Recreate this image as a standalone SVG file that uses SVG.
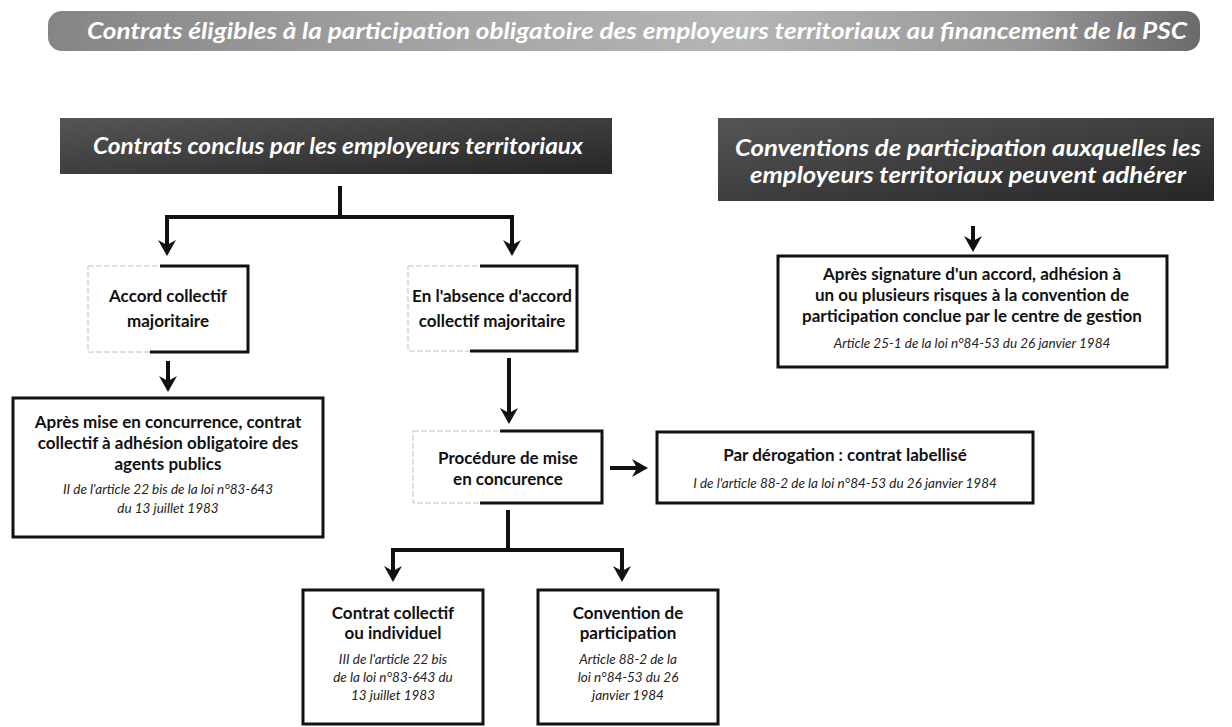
<svg xmlns="http://www.w3.org/2000/svg" width="1232" height="727" viewBox="0 0 1232 727">
<defs>
<style>
text{font-family:Lato,"Open Sans","Liberation Sans",sans-serif;text-anchor:middle}
.b{font-weight:700;font-size:17px;fill:#111}
.i{font-style:italic;font-size:13.5px;fill:#222}
.h{font-style:italic;font-weight:700;font-size:23px;fill:#fff}
.t{font-style:italic;font-weight:700;font-size:23px;fill:#fff}
.box{fill:#fff;stroke:#111;stroke-width:3}
.soft{fill:#fff;stroke:#c4c4c4;stroke-width:1;stroke-dasharray:6 2}
.edge{fill:none;stroke:#111;stroke-width:3}
.c{fill:none;stroke:#111;stroke-width:4}
.a{fill:none;stroke:#111;stroke-width:4;marker-end:url(#ah)}
</style>
<marker id="ah" viewBox="0 0 16 18" refX="6" refY="9" markerWidth="16" markerHeight="18" markerUnits="userSpaceOnUse" orient="auto">
<path d="M0,0 L16,9 L0,18 L5,9 z" fill="#111"/>
</marker>
<linearGradient id="gt" x1="0" y1="0" x2="1" y2="0">
<stop offset="0" stop-color="#858585"/>
<stop offset="0.35" stop-color="#a5a5a5"/>
<stop offset="0.6" stop-color="#b5b5b5"/>
<stop offset="0.85" stop-color="#989898"/>
<stop offset="1" stop-color="#6a6a6a"/>
</linearGradient>
<linearGradient id="gh" x1="0" y1="0" x2="1" y2="1">
<stop offset="0" stop-color="#555"/>
<stop offset="0.5" stop-color="#3e3e3e"/>
<stop offset="1" stop-color="#262626"/>
</linearGradient>
</defs>
<rect width="1232" height="727" fill="#fff"/>

<g id="title">
<rect x="48" y="11" width="1152" height="40" rx="14" fill="url(#gt)"/>
<text class="t" x="637" y="39" textLength="1100" lengthAdjust="spacingAndGlyphs">Contrats éligibles à la participation obligatoire des employeurs territoriaux au financement de la PSC</text>
</g>

<g id="hdr-left">
<rect x="60" y="118" width="552" height="56" fill="url(#gh)"/>
<text class="h" x="338" y="154" textLength="490" lengthAdjust="spacingAndGlyphs">Contrats conclus par les employeurs territoriaux</text>
</g>

<g id="hdr-right">
<rect x="718" y="118" width="496" height="83" fill="url(#gh)"/>
<text class="h" x="968" y="156" textLength="466" lengthAdjust="spacingAndGlyphs">Conventions de participation auxquelles les</text>
<text class="h" x="968" y="183" textLength="436" lengthAdjust="spacingAndGlyphs">employeurs territoriaux peuvent adhérer</text>
</g>

<g id="adhesion">
<rect class="box" x="778" y="256" width="389" height="111"/>
<text class="b" x="972" y="280">Après signature d'un accord, adhésion à</text>
<text class="b" x="972" y="301">un ou plusieurs risques à la convention de</text>
<text class="b" x="972" y="322">participation conclue par le centre de gestion</text>
<text class="i" x="972" y="348">Article 25-1 de la loi n°84-53 du 26 janvier 1984</text>
</g>

<g id="accord">
<rect class="soft" x="88" y="266" width="160" height="86"/>
<path class="edge" d="M160,266 H248 V352 H150"/>
<text class="b" x="168" y="302">Accord collectif</text>
<text class="b" x="168" y="327">majoritaire</text>
</g>

<g id="absence">
<rect class="soft" x="408" y="266" width="169" height="85"/>
<path class="edge" d="M480,266 H577 V351 H470"/>
<text class="b" x="492" y="302">En l'absence d'accord</text>
<text class="b" x="492" y="327">collectif majoritaire</text>
</g>

<g id="apres-mise">
<rect class="box" x="13" y="398" width="310" height="139"/>
<text class="b" x="168" y="428">Après mise en concurrence, contrat</text>
<text class="b" x="168" y="449">collectif à adhésion obligatoire des</text>
<text class="b" x="168" y="470">agents publics</text>
<text class="i" x="168" y="494">II de l'article 22 bis de la loi n°83-643</text>
<text class="i" x="168" y="513">du 13 juillet 1983</text>
</g>

<g id="procedure">
<rect class="soft" x="413" y="431" width="189" height="72"/>
<path class="edge" d="M500,431 H602 V503 H480"/>
<text class="b" x="508" y="464">Procédure de mise</text>
<text class="b" x="508" y="485">en concurence</text>
</g>

<g id="labellise">
<rect class="box" x="657" y="432" width="376" height="71"/>
<text class="b" x="845" y="461">Par dérogation : contrat labellisé</text>
<text class="i" x="845" y="488">I de l'article 88-2 de la loi n°84-53 du 26 janvier 1984</text>
</g>

<g id="contrat-collectif">
<rect class="box" x="303" y="590" width="180" height="134"/>
<text class="b" x="393" y="619">Contrat collectif</text>
<text class="b" x="393" y="639">ou individuel</text>
<text class="i" x="393" y="664">III de l'article 22 bis</text>
<text class="i" x="393" y="682">de la loi n°83-643 du</text>
<text class="i" x="393" y="700">13 juillet 1983</text>
</g>

<g id="convention">
<rect class="box" x="538" y="590" width="180" height="134"/>
<text class="b" x="628" y="619">Convention de</text>
<text class="b" x="628" y="639">participation</text>
<text class="i" x="628" y="664">Article 88-2 de la</text>
<text class="i" x="628" y="682">loi n°84-53 du 26</text>
<text class="i" x="628" y="700">janvier 1984</text>
</g>

<g id="connectors">
<path class="c" d="M340,186 V217 M165,217 H514"/>
<path class="a" d="M167,215 V246"/>
<path class="a" d="M512,215 V246"/>
<path class="a" d="M973,226 V242"/>
<path class="a" d="M168,361 V382"/>
<path class="a" d="M509,358 V414"/>
<path class="a" d="M610,468 H638"/>
<path class="c" d="M508,510 V550 M391,550 H624"/>
<path class="a" d="M393,548 V572"/>
<path class="a" d="M622,548 V572"/>
</g>
</svg>
